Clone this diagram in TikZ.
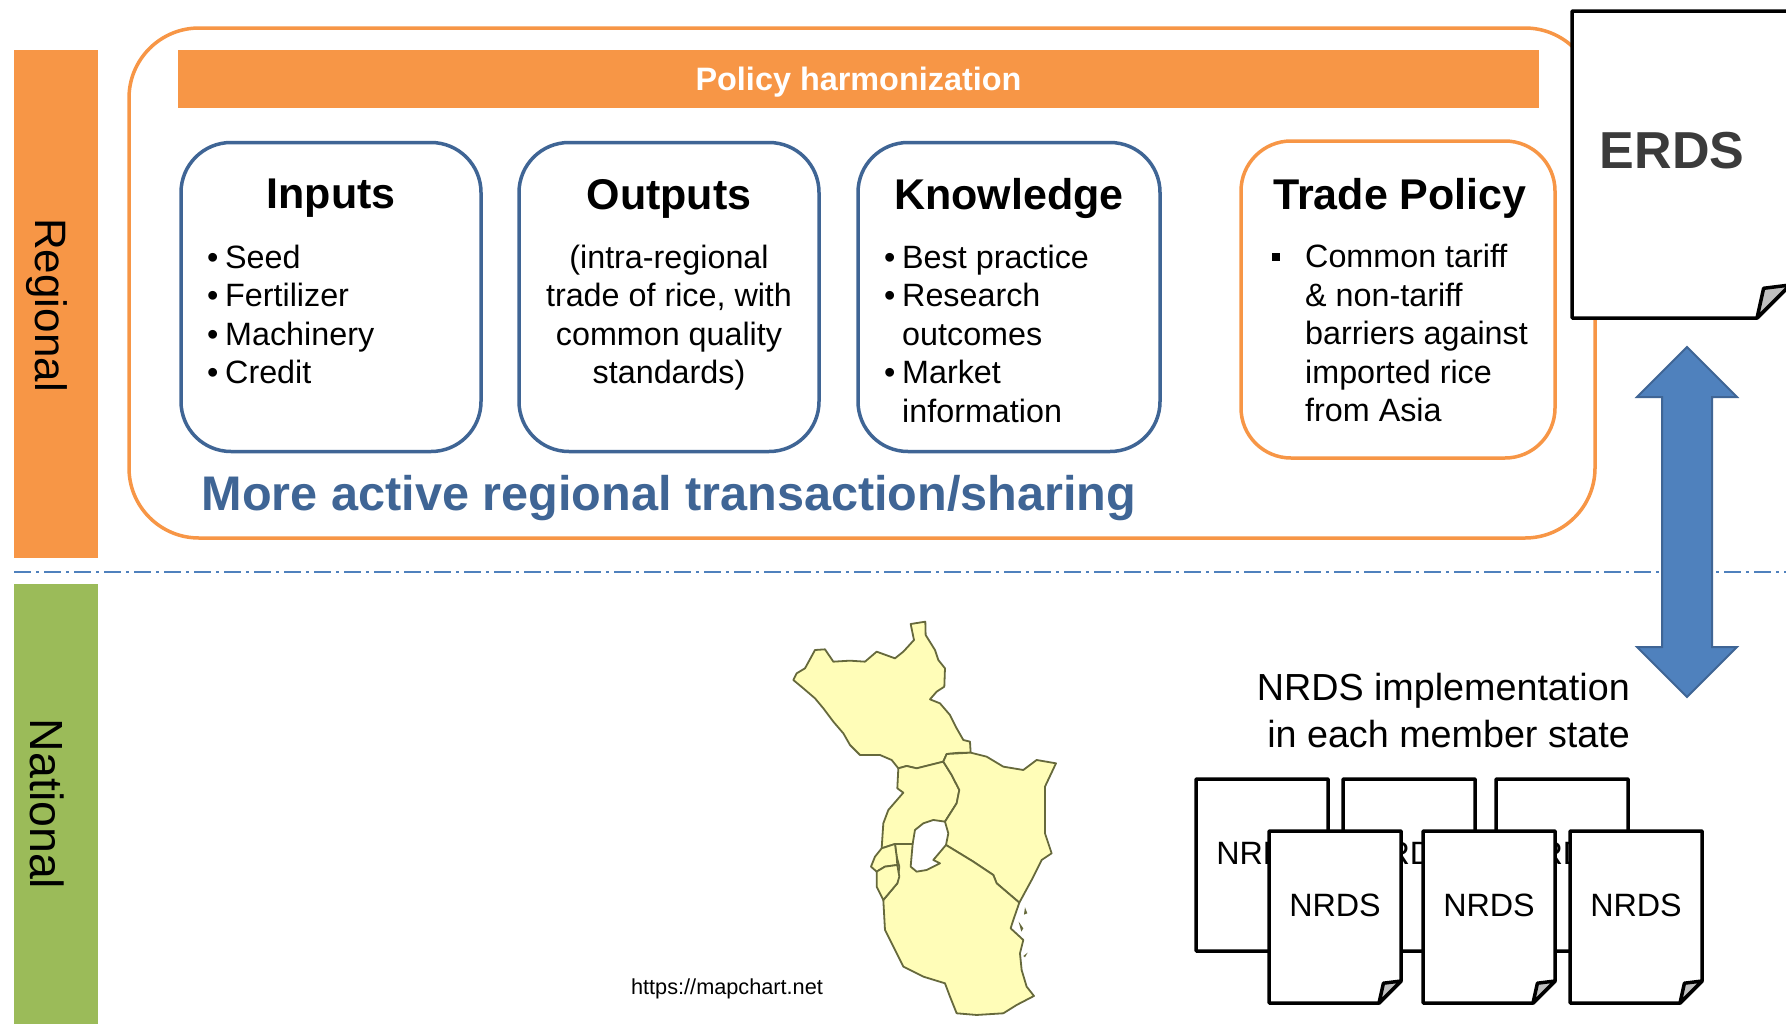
\documentclass[tikz,border=0pt]{standalone}
\usepackage{fontspec}
\setmainfont{Liberation Sans}
\usetikzlibrary{positioning,shapes.arrows}
\definecolor{eacorange}{HTML}{F79646}
\definecolor{eacgreen}{HTML}{9BBB59}
\definecolor{eacblue}{HTML}{4F81BD}
\definecolor{eacdark}{HTML}{3F6595}
\definecolor{mapfill}{HTML}{FFFDB8}
\definecolor{mapline}{HTML}{66693C}
\newcommand{\itm}[1]{\makebox[18pt][l]{\textbullet}#1}
\newcommand{\cont}[1]{\makebox[18pt][l]{}#1}
\newcommand{\sqitm}[1]{\makebox[33pt][l]{\raisebox{7pt}{\rule{8pt}{8pt}}}#1}
\newcommand{\sqcont}[1]{\makebox[33pt][l]{}#1}
\newcommand{\foldcorner}[2]{%
    \draw [docline] (#1.north west) -- (#1.north east) -- ([yshift=#2]#1.south east) -- ([xshift=-#2]#1.south east) -- (#1.south west) -- cycle;
    \draw [docline, fill=black!25] ([xshift=-#2]#1.south east) -- ([xshift=-0.8*#2,yshift=0.9*#2]#1.south east) -- ([yshift=#2]#1.south east) -- cycle;
}
\begin{document}
\begin{tikzpicture}[
    x=1pt, y=-1pt,
    band/.style={rectangle, minimum width=84pt, inner sep=0pt, outer sep=0pt},
    bandtext/.style={rotate=-90, inner sep=0pt},
    group/.style={rectangle, draw, line width=3.5pt, rounded corners=50pt, minimum width=300pt, minimum height=309pt, inner sep=0pt, outer sep=0pt},
    title/.style={inner sep=0pt, font=\bfseries\fontsize{43}{43}\selectfont},
    listtext/.style={inner sep=0pt, anchor=north west, align=left, font=\fontsize{32.3}{38.5}\selectfont},
    docpage/.style={rectangle, fill=white, inner sep=0pt, outer sep=0pt, minimum width=132pt, minimum height=172pt},
    docline/.style={black, line width=3.5pt, line join=round},
    doctext/.style={inner sep=0pt, font=\fontsize{32.3}{32.3}\selectfont},
    region/.style={fill=mapfill, draw=mapline, line width=1.8pt, line join=round}
]
    \clip (0,0) rectangle (1786,1023);
    \fill [white] (0,0) rectangle (1786,1023);

    % Level bands
    \node [band, fill=eacorange, minimum height=508pt] (regional) at (56,304) {};
    \node [band, fill=eacgreen, minimum height=440pt] (national) at (56,804) {};
    \node [bandtext, font=\fontsize{44}{44}\selectfont] (regionaltext) at (47,305) {Regional};
    \node [bandtext, font=\fontsize{46.5}{46.5}\selectfont] (nationaltext) at (47,804) {National};
    \draw [eacblue, line width=1.5pt, dash pattern=on 17pt off 5pt on 3pt off 5pt] (14,572) coordinate (levelstart) -- (1786,572) coordinate (levelend);

    % Regional frame
    \node [rectangle, draw=eacorange, line width=3.5pt, rounded corners=70pt, minimum width=1466pt, minimum height=510pt, inner sep=0pt] (frame) at (862,283) {};
    \node [rectangle, fill=eacorange, minimum width=1361pt, minimum height=58pt, inner sep=0pt] (policy) at (858.5,79) {};
    \node [inner sep=0pt, text=white, font=\bfseries\fontsize{32.4}{32.4}\selectfont] (policytext) at ([yshift=-3.5pt]policy.center) {Policy harmonization};

    % Pillars
    \node [group, draw=eacdark] (inputs) at (331,297) {};
    \node [group, draw=eacdark, right=38pt of inputs] (outputs) {};
    \node [group, draw=eacdark, right=39pt of outputs, minimum width=302pt] (knowledge) {};
    \node [group, draw=eacorange, minimum width=314pt, minimum height=317pt] (trade) at (1398,299.5) {};

    \node [title] (inputstitle) at ([yshift=-56pt]inputs.north) {Inputs};
    \node [title] (outputstitle) at ([yshift=-56pt]outputs.north) {Outputs};
    \node [title] (knowledgetitle) at ([yshift=-56pt]knowledge.north) {Knowledge};
    \node [title] (tradetitle) at (1400,198) {Trade Policy};

    \node [listtext] (inputslist) at ([xshift=26pt,yshift=-102pt]inputs.north west) {\itm{Seed}\\\itm{Fertilizer}\\\itm{Machinery}\\\itm{Credit}};
    \node [listtext, anchor=north, align=center] (outputslist) at ([yshift=-102pt]outputs.north) {(intra-regional\\trade of rice, with\\common quality\\standards)};
    \node [listtext] (knowledgelist) at ([xshift=26pt,yshift=-102pt]knowledge.north west) {\itm{Best practice}\\\itm{Research}\\\cont{outcomes}\\\itm{Market}\\\cont{information}};
    \node [listtext] (tradelist) at ([xshift=31pt,yshift=-103pt]trade.north west) {\sqitm{Common tariff}\\\sqcont{\& non-tariff}\\\sqcont{barriers against}\\\sqcont{imported rice}\\\sqcont{from Asia}};

    \node [inner sep=0pt, text=eacdark, font=\bfseries\fontsize{48.6}{48.6}\selectfont] (sharing) at (669,498) {More active regional transaction/sharing};

    % ERDS page and link
    \node [docpage, minimum width=218pt, minimum height=307pt] (erds) at (1681,164.5) {};
    \foldcorner{erds}{33pt}
    \node [inner sep=0pt, text=black!77, font=\bfseries\fontsize{52}{52}\selectfont] (erdstext) at (1672,151) {ERDS};
    \node [double arrow, rotate=90, fill=eacblue, draw=eacdark, line width=2pt, inner xsep=0pt, inner ysep=24pt, minimum height=350pt, double arrow head extend=25pt, double arrow tip angle=90] (link) at (1687,522) {};

    % Map of member states
    \begin{scope}[shift={(760,600)}, x=0.3333pt, y=-0.3333pt]
        \draw [region] (452,72) -- (496,65) -- (497,105) -- (525,150) -- (535,180) -- (555,205) -- (553,260) -- (530,275) -- (510,298) -- (540,310) -- (570,345) -- (590,385) -- (610,420) -- (630,425) -- (632,458) -- (600,458) -- (560,462) -- (550,485) -- (510,495) -- (470,505) -- (440,498) -- (415,505) -- (395,480) -- (360,465) -- (300,465) -- (270,435) -- (250,400) -- (220,365) -- (190,325) -- (165,295) -- (130,265) -- (100,240) -- (110,220) -- (135,205) -- (165,150) -- (195,148) -- (220,185) -- (270,182) -- (315,185) -- (350,155) -- (405,175) -- (430,155) -- (462,120) -- cycle;
        \draw [region] (415,505) -- (440,498) -- (470,505) -- (510,495) -- (550,485) -- (575,525) -- (598,570) -- (590,610) -- (555,665) -- (520,660) -- (490,670) -- (465,690) -- (458,732) -- (405,732) -- (365,745) -- (370,670) -- (385,630) -- (430,578) -- (412,565) -- cycle;
        \draw [region] (560,462) -- (632,458) -- (680,470) -- (730,500) -- (790,510) -- (830,480) -- (888,490) -- (855,560) -- (855,700) -- (875,760) -- (845,780) -- (815,840) -- (778,908) -- (710,850) -- (700,825) -- (640,785) -- (558,735) -- (565,700) -- (555,665) -- (590,610) -- (598,570) -- (575,525) -- (550,485) -- cycle;
        \draw [region] (405,732) -- (458,732) -- (452,800) -- (470,815) -- (500,810) -- (540,790) -- (520,780) -- (558,735) -- (640,785) -- (700,825) -- (710,850) -- (778,908) -- (760,960) -- (752,985) -- (790,1020) -- (780,1060) -- (785,1110) -- (800,1160) -- (822,1188) -- (770,1215) -- (730,1240) -- (650,1245) -- (590,1240) -- (570,1190) -- (555,1150) -- (490,1130) -- (430,1100) -- (400,1040) -- (375,990) -- (370,900) -- (412,850) -- (418,800) -- (410,770) -- cycle;
        \draw [region] (365,745) -- (405,732) -- (410,770) -- (412,795) -- (375,800) -- (350,815) -- (333,800) -- (345,770) -- cycle;
        \draw [region] (350,815) -- (375,800) -- (412,795) -- (418,830) -- (412,850) -- (370,900) -- (350,860) -- cycle;
        \fill [mapline] (795,922) -- (802,940) -- (792,944) -- cycle;
        \fill [mapline] (776,965) -- (790,985) -- (784,995) -- cycle;
        \fill [mapline] (790,1068) -- (803,1058) -- (795,1072) -- cycle;
    \end{scope}
    \node [inner sep=0pt, font=\fontsize{21.7}{21.7}\selectfont] (mapsource) at (727,989) {https://mapchart.net};

    % NRDS pages
    \node [inner sep=0pt, anchor=north east, align=right, font=\fontsize{37.7}{47}\selectfont] (nrdscaption) at (1630,673) {NRDS implementation\\in each member state};

    \node [docpage] (nrdsA) at (1262,865) {};
    \node [docpage, right=15pt of nrdsA] (nrdsB) {};
    \node [docpage, right=21pt of nrdsB] (nrdsC) {};
    \foldcorner{nrdsA}{22pt}
    \foldcorner{nrdsB}{22pt}
    \foldcorner{nrdsC}{22pt}
    \node [doctext] (nrdsAtext) at ([yshift=12pt]nrdsA.center) {NRDS};
    \node [doctext] (nrdsBtext) at ([yshift=12pt]nrdsB.center) {NRDS};
    \node [doctext] (nrdsCtext) at ([yshift=12pt]nrdsC.center) {NRDS};

    \node [docpage] (nrdsD) at (1335,917) {};
    \node [docpage, right=22pt of nrdsD] (nrdsE) {};
    \node [docpage, right=15pt of nrdsE] (nrdsF) {};
    \foldcorner{nrdsD}{22pt}
    \foldcorner{nrdsE}{22pt}
    \foldcorner{nrdsF}{22pt}
    \node [doctext] (nrdsDtext) at ([yshift=12pt]nrdsD.center) {NRDS};
    \node [doctext] (nrdsEtext) at ([yshift=12pt]nrdsE.center) {NRDS};
    \node [doctext] (nrdsFtext) at ([yshift=12pt]nrdsF.center) {NRDS};
\end{tikzpicture}
\end{document}
